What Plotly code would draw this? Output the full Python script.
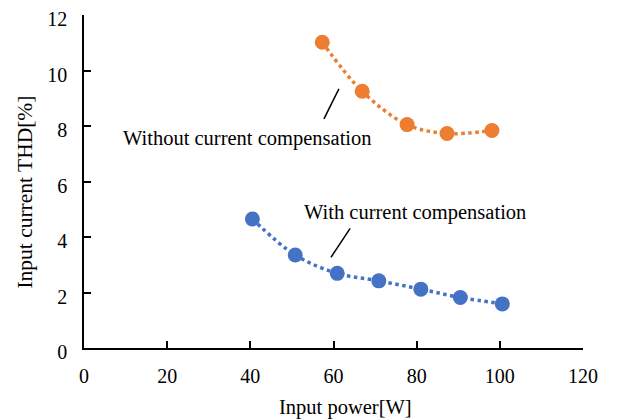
import plotly.graph_objects as go

# Data
power_without = [57.3, 66.9, 77.7, 87.3, 98.1]
thd_without = [11.02, 9.25, 8.05, 7.73, 7.84]

power_with = [40.5, 50.8, 60.9, 70.9, 81.0, 90.5, 100.6]
thd_with = [4.65, 3.35, 2.69, 2.42, 2.12, 1.82, 1.59]

x_ticks = [0, 20, 40, 60, 80, 100, 120]
y_ticks = [0, 2, 4, 6, 8, 10, 12]

label_without = "Without current compensation"
label_with = "With current compensation"
x_title = "Input power[W]"
y_title = "Input current THD[%]"

ORANGE = "#ED7D31"
BLUE = "#4472C4"
FONT = "Liberation Serif, Times New Roman, serif"

fig = go.Figure()
fig.add_trace(go.Scatter(
    x=power_without, y=thd_without, mode="lines+markers",
    line=dict(color=ORANGE, width=3.5, dash="3.5px,3.5px", shape="spline"),
    marker=dict(color=ORANGE, size=15), showlegend=False))
fig.add_trace(go.Scatter(
    x=power_with, y=thd_with, mode="lines+markers",
    line=dict(color=BLUE, width=3.5, dash="3.5px,3.5px", shape="spline"),
    marker=dict(color=BLUE, size=15), showlegend=False))

fig.add_annotation(x=39.4, y=7.56, xref="x", yref="y", text=label_without,
                   showarrow=False, font=dict(family=FONT, size=20.5, color="black"))
fig.add_annotation(x=79.6, y=4.90, xref="x", yref="y", text=label_with,
                   showarrow=False, font=dict(family=FONT, size=20.5, color="black"))
fig.add_shape(type="line", xref="x", yref="y", x0=61.3, y0=9.34, x1=57.7, y1=8.26,
              line=dict(color="black", width=1.5))
fig.add_shape(type="line", xref="x", yref="y", x0=64.0, y0=4.31, x1=59.4, y1=3.27,
              line=dict(color="black", width=1.5))

# axis titles
fig.add_annotation(x=0.525, y=-0.18, xref="paper", yref="paper", text=x_title,
                   showarrow=False, xanchor="center", yanchor="middle",
                   font=dict(family=FONT, size=20.5, color="black"))
fig.add_annotation(x=-0.118, y=0.467, xref="paper", yref="paper", text=y_title,
                   showarrow=False, xanchor="center", yanchor="middle", textangle=-90,
                   font=dict(family=FONT, size=21.5, color="black"))

# the page body has an 8px default margin, so the figure is 8px smaller
fig.update_layout(
    width=610, height=411,
    margin=dict(l=76, r=35, t=7, b=71),
    paper_bgcolor="white", plot_bgcolor="white",
    font=dict(family=FONT, size=20, color="black"),
)
fig.update_xaxes(
    range=[0, 120], tickvals=x_ticks, ticks="inside", ticklen=7, tickcolor="black",
    tickwidth=1.5, showline=True, linecolor="black", linewidth=1.5, showgrid=False,
    zeroline=False, ticklabelstandoff=9, automargin=False, ticklabeloverflow="allow")
fig.update_yaxes(
    range=[0, 12], tickvals=y_ticks, ticks="inside", ticklen=7, tickcolor="black",
    tickwidth=1.5, showline=True, linecolor="black", linewidth=1.5, showgrid=False,
    zeroline=False, ticklabelstandoff=11, ticklabelshift=4, automargin=False,
    ticklabeloverflow="allow")

fig.write_html("out.html")
